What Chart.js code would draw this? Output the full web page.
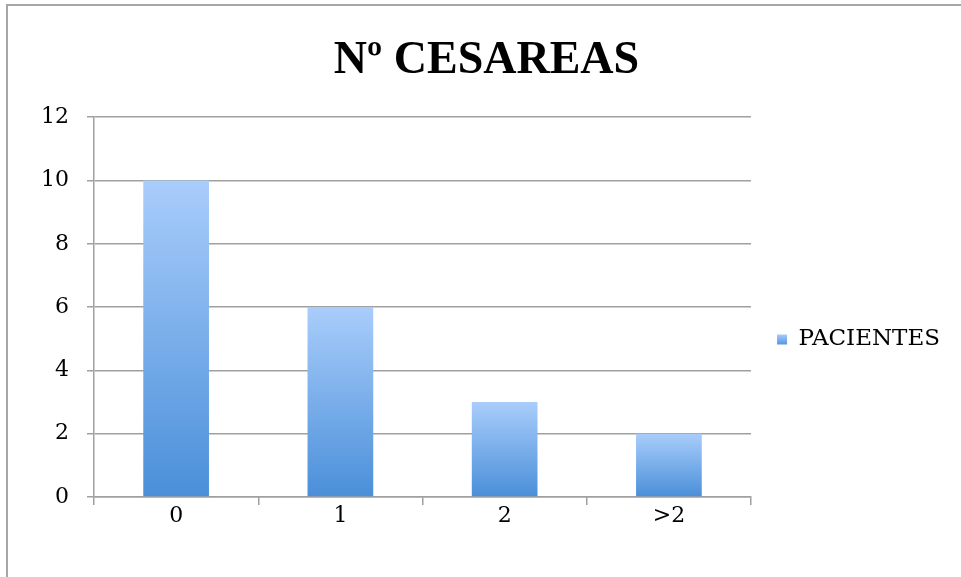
<!DOCTYPE html>
<html>
<head>
<meta charset="utf-8">
<script src="https://cdn.jsdelivr.net/npm/chart.js@4.4.1/dist/chart.umd.min.js"></script>
<style>
  html, body { margin: 0; padding: 0; background: #fff; overflow: hidden; }
  #frame {
    position: absolute; left: 6px; top: 4px; width: 1000px; height: 620px;
    border-left: 2px solid #a6a6a6; border-top: 2px solid #a6a6a6;
  }
  #wrap { position: absolute; left: 0; top: 0; width: 961px; height: 577px; }
</style>
</head>
<body>
<div id="frame"></div>
<div id="wrap"><canvas id="cesareas"></canvas></div>
<script>
// datos
const categories = ["0", "1", "2", ">2"];
const pacientes = [10, 6, 3, 2];
const yTicks = [0, 2, 4, 6, 8, 10, 12];

const serif = "'DejaVu Serif', 'Liberation Serif', serif";
const gridColor = "#a0a0a0";

function barGradient(context) {
  const chart = context.chart;
  if (!chart.chartArea || context.parsed === undefined) return "#7fb0ea";
  const y = chart.scales.y;
  const top = y.getPixelForValue(context.parsed.y);
  const bottom = y.getPixelForValue(0);
  const g = chart.ctx.createLinearGradient(0, top, 0, bottom);
  g.addColorStop(0, "#a9cdfb");
  g.addColorStop(1, "#4a8fd9");
  return g;
}

function legendGradient(chart) {
  const g = chart.ctx.createLinearGradient(0, 334, 0, 346);
  g.addColorStop(0, "#a9cdfb");
  g.addColorStop(1, "#4a8fd9");
  return g;
}

const canvas = document.getElementById("cesareas");
const ctx = canvas.getContext("2d");

const chart = new Chart(ctx, {
  type: "bar",
  data: {
    labels: categories,
    datasets: [{
      label: "PACIENTES",
      data: pacientes,
      backgroundColor: barGradient,
      barPercentage: 0.4,
      categoryPercentage: 1.0,
    }],
  },
  options: {
    responsive: true,
    maintainAspectRatio: false,
    animation: false,
    layout: { padding: { left: 23, right: 11, top: 0, bottom: 50 } },
    plugins: {
      title: {
        display: true,
        text: "Nº CESAREAS",
        color: "#000",
        font: { family: "'Liberation Serif', serif", size: 46, weight: "bold" },
        padding: { top: 34, bottom: 28 },
      },
      legend: {
        position: "right",
        align: "start",
        // titulo vacio solo para bajar la leyenda
        title: { display: true, text: " ", font: { size: 10 }, padding: { top: 290, bottom: 0 } },
        labels: {
          color: "#000",
          font: { family: serif, size: 23 },
          boxWidth: 10,
          boxHeight: 10,
          padding: 26,
          generateLabels: (c) => [{
            text: "PACIENTES",
            fillStyle: legendGradient(c),
            strokeStyle: "rgba(0,0,0,0)",
            fontColor: "#000",
            lineWidth: 0,
            datasetIndex: 0,
          }],
        },
      },
      tooltip: { enabled: false },
    },
    scales: {
      x: {
        offset: true,
        grid: {
          offset: true,
          drawOnChartArea: false,
          drawTicks: true,
          tickLength: 8,
          color: gridColor,
          lineWidth: 1.5,
        },
        border: { color: gridColor, width: 1.5 },
        ticks: { color: "#000", font: { family: serif, size: 22, lineHeight: 1 }, padding: 0 },
      },
      y: {
        min: 0,
        max: 12,
        afterBuildTicks: (scale) => { scale.ticks = yTicks.map((v) => ({ value: v })); },
        grid: { color: gridColor, lineWidth: 1.5, tickLength: 7 },
        border: { color: gridColor, width: 1.5 },
        ticks: { color: "#000", font: { family: serif, size: 22 }, padding: 18 },
      },
    },
  },
});
</script>
</body>
</html>
